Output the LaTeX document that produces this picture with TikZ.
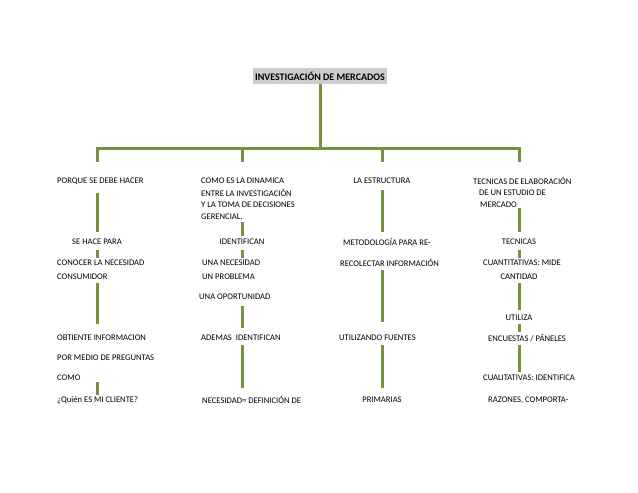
\documentclass[tikz,border=0pt]{standalone}
\usepackage{fontspec}
\setmainfont{Carlito}
\begin{document}
\begin{tikzpicture}[x=1pt,y=-1pt,
  lbl/.style={anchor=west,inner sep=0pt,font=\fontsize{8.6}{9}\selectfont},
  clbl/.style={inner sep=0pt,font=\fontsize{8.6}{9}\selectfont},
  conn/.style={draw={rgb,255:red,118;green,146;blue,60},line width=3pt}]
\useasboundingbox (0,0) rectangle (638,493);
\node[fill=black!20,inner xsep=2pt,inner ysep=3.5pt,font=\bfseries\fontsize{10}{11}\selectfont] (t) at (320,76) {INVESTIGACIÓN DE MERCADOS};
% column 1
\node[lbl] (a1) at (57,181) {PORQUE SE DEBE HACER};
\node[clbl] (a2) at (97,242) {SE HACE PARA};
\node[lbl] (a3) at (57,263) {CONOCER LA NECESIDAD};
\node[lbl] (a4) at (57,277) {CONSUMIDOR};
\node[lbl] (a5) at (57,338) {OBTIENTE INFORMACION};
\node[lbl] (a6) at (57,358) {POR MEDIO DE PREGUNTAS};
\node[lbl] (a7) at (57,378) {COMO};
\node[lbl] (a8) at (57,400) {¿Quién ES MI CLIENTE?};
% column 2
\node[lbl] (b1) at (201,181) {COMO ES LA DINAMICA};
\node[lbl] (b1b) at (201,193) {ENTRE LA INVESTIGACIÓN};
\node[lbl] (b1c) at (201,205) {Y LA TOMA DE DECISIONES};
\node[lbl] (b1d) at (201,217) {GERENCIAL.};
\node[clbl] (b2) at (242,242) {IDENTIFICAN};
\node[lbl] (b3) at (202,263) {UNA NECESIDAD};
\node[lbl] (b4) at (202,277) {UN PROBLEMA};
\node[lbl] (b5) at (199,297) {UNA OPORTUNIDAD};
\node[lbl] (b6) at (201,338) {ADEMAS \ IDENTIFICAN};
\node[lbl] (b7) at (202,400) {NECESIDAD= DEFINICIÓN DE};
% column 3
\node[clbl] (c1) at (382,181) {LA ESTRUCTURA};
\node[lbl] (c2) at (343,242) {METODOLOGÍA PARA RE-};
\node[lbl] (c3) at (340,263) {RECOLECTAR INFORMACIÓN};
\node[lbl] (c4) at (339,338) {UTILIZANDO FUENTES};
\node[clbl] (c5) at (382,400) {PRIMARIAS};
% column 4
\node[lbl] (d1) at (473,181) {TECNICAS DE ELABORACIÓN};
\node[lbl] (d1b) at (479,193) {DE UN ESTUDIO DE};
\node[lbl] (d1c) at (480,205) {MERCADO};
\node[clbl] (d2) at (519,242) {TECNICAS};
\node[lbl] (d3) at (483,263) {CUANTITATIVAS: MIDE};
\node[clbl] (d4) at (519,277) {CANTIDAD};
\node[clbl] (d5) at (519,318) {UTILIZA};
\node[lbl] (d6) at (488,338) {ENCUESTAS / PÁNELES};
\node[lbl] (d7) at (483,378) {CUALITATIVAS: IDENTIFICA};
\node[lbl] (d8) at (488,400) {RAZONES, COMPORTA-};
% tree
\coordinate (hl) at (97,148); \coordinate (hr) at (519,148); \coordinate (hm) at (320,148);
\draw[conn] (t.south) -- (hm);
\draw[conn,line cap=rect] (hl) -- (hr);
\foreach \x in {97,242,382,519} \draw[conn] (\x,148) -- (\x,162);
% vertical connectors
\foreach \x/\a/\b in {97/193/232, 97/250/258, 97/283/324, 97/382/395,
  242/222/236, 242/250/258, 242/306/328, 242/345/388,
  382/190/232, 382/270/322, 382/345/388,
  519/208/232, 519/250/258, 519/283/310, 519/324/332, 519/345/372}
  \draw[conn] (\x,\a) -- (\x,\b);
\end{tikzpicture}
\end{document}
